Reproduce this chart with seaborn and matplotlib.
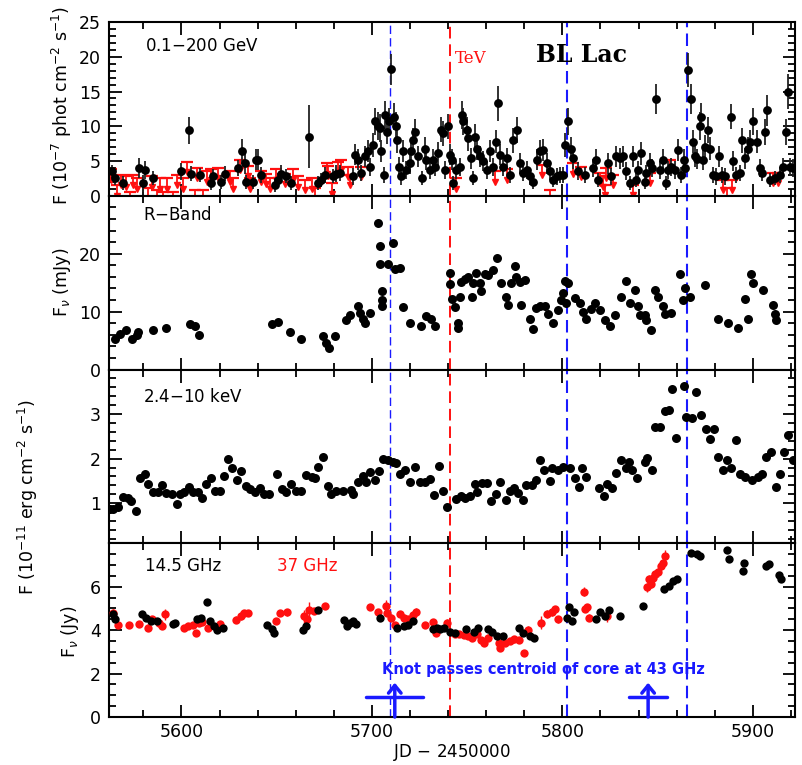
import matplotlib
matplotlib.use('Agg')
import numpy as np
import pandas as pd
import matplotlib.pyplot as plt
from matplotlib.ticker import MultipleLocator, FixedLocator
import seaborn as sns

# --- Fermi 0.1-200 GeV (detections) ---
gev_t = [5563.3, 5565.0, 5569.4, 5577.8, 5579.9, 5580.8, 5585.2, 5600.0, 5604.0, 5605.2,
         5609.6, 5615.7, 5616.6, 5621.0, 5622.7, 5629.7, 5632.0, 5633.2, 5634.0, 5637.6,
         5639.0, 5640.2, 5641.6, 5648.9, 5650.7, 5652.4, 5655.0, 5657.7, 5667.0, 5671.7,
         5673.4, 5675.2, 5679.5, 5681.3, 5683.1, 5690.0, 5691.0, 5692.8, 5694.5, 5696.2,
         5698.0, 5698.9, 5700.6, 5701.5, 5703.3, 5704.1, 5705.0, 5706.4, 5707.1, 5708.1,
         5709.0, 5709.9, 5711.6, 5712.5, 5713.4, 5714.1, 5715.5, 5716.4, 5718.1, 5719.9,
         5720.7, 5721.6, 5722.8, 5724.2, 5726.3, 5727.7, 5728.6, 5730.4, 5732.1, 5733.0,
         5734.8, 5736.2, 5737.4, 5738.3, 5740.0, 5740.9, 5741.8, 5742.7, 5744.4, 5746.2,
         5747.1, 5747.9, 5749.7, 5750.6, 5752.0, 5753.2, 5754.1, 5755.0, 5756.7, 5758.5,
         5760.2, 5762.0, 5763.7, 5765.1, 5766.0, 5767.2, 5769.0, 5770.7, 5772.5, 5774.2,
         5776.0, 5777.7, 5779.5, 5781.2, 5783.0, 5784.7, 5786.5, 5788.2, 5790.0, 5791.7,
         5793.5, 5795.2, 5797.0, 5798.7, 5800.5, 5801.3, 5803.1, 5804.7, 5805.6, 5808.2,
         5811.7, 5816.1, 5817.8, 5818.7, 5824.0, 5825.7, 5828.3, 5830.1, 5831.8, 5833.6,
         5835.3, 5837.1, 5838.8, 5839.7, 5841.5, 5843.2, 5844.1, 5845.8, 5847.0, 5849.0,
         5851.1, 5852.8, 5854.2, 5855.5, 5857.2, 5859.0, 5860.7, 5862.5, 5863.9, 5864.6,
         5866.0, 5867.4, 5868.6, 5869.8, 5870.9, 5872.1, 5873.0, 5873.9, 5875.1, 5876.2,
         5877.7, 5879.2, 5880.4, 5882.1, 5883.6, 5885.3, 5888.3, 5889.7, 5891.4, 5893.2,
         5894.1, 5895.8, 5897.6, 5898.5, 5900.2, 5902.0, 5903.7, 5905.0, 5906.4, 5907.2,
         5909.0, 5911.6, 5914.2, 5916.0, 5917.2, 5918.3, 5919.5, 5921.3]
gev_f = [3.5, 2.5, 1.8, 4.0, 1.8, 3.7, 2.5, 3.5, 9.4, 3.2,
         3.0, 1.8, 2.8, 2.0, 3.2, 4.0, 6.4, 4.7, 2.0, 2.0,
         5.2, 5.2, 3.0, 1.6, 2.3, 3.2, 2.8, 1.8, 8.5, 1.8,
         2.3, 3.0, 2.8, 3.2, 3.3, 2.8, 5.9, 5.2, 3.3, 5.7,
         6.4, 4.2, 7.3, 10.7, 10.0, 9.7, 6.4, 3.0, 11.6, 9.2,
         10.7, 18.2, 11.4, 10.0, 8.0, 4.2, 2.8, 6.4, 3.7, 4.7,
         6.4, 8.0, 9.2, 5.7, 2.5, 6.8, 5.2, 3.7, 5.2, 4.2,
         6.1, 9.5, 9.0, 3.7, 10.0, 5.9, 5.2, 1.8, 3.7, 4.2,
         11.6, 10.7, 9.5, 8.3, 5.4, 2.5, 8.5, 6.8, 5.7, 5.0,
         3.7, 6.4, 4.2, 7.8, 13.3, 5.9, 4.2, 5.4, 3.0, 8.0,
         9.5, 4.7, 3.3, 3.7, 2.8, 2.0, 5.2, 6.4, 6.6, 4.7,
         3.5, 2.3, 2.8, 3.0, 3.0, 7.3, 10.7, 6.8, 5.4, 3.5,
         3.0, 4.0, 5.2, 2.3, 4.7, 2.8, 5.7, 5.4, 5.7, 3.5,
         1.8, 5.7, 2.3, 3.7, 6.1, 2.0, 3.3, 4.7, 4.0, 13.9,
         3.7, 5.2, 1.8, 3.7, 4.2, 3.7, 6.6, 3.0, 5.2, 4.0,
         18.1, 13.9, 7.8, 5.7, 5.3, 10.0, 11.4, 5.2, 7.0, 9.5,
         6.8, 3.0, 2.8, 5.7, 3.0, 2.8, 11.4, 5.0, 3.0, 3.3,
         8.0, 5.4, 6.8, 7.8, 10.7, 7.8, 4.0, 3.3, 9.2, 12.3,
         2.3, 2.5, 3.0, 4.2, 9.2, 15.0, 4.2, 4.0]
gev_e = [1.0, 1.0, 1.0, 1.5, 1.2, 1.3, 1.0, 1.2, 2.0, 1.1,
         1.0, 1.0, 1.0, 1.0, 1.1, 1.2, 1.8, 1.5, 1.0, 1.0,
         1.5, 1.5, 1.2, 1.0, 1.0, 1.2, 1.0, 1.0, 4.5, 1.0,
         1.0, 1.2, 1.0, 1.2, 1.2, 1.2, 1.5, 1.5, 1.2, 1.5,
         1.6, 1.3, 1.7, 2.0, 2.0, 2.0, 1.6, 1.2, 2.0, 1.8,
         2.0, 2.2, 2.0, 2.0, 1.8, 1.4, 1.2, 1.6, 1.3, 1.5,
         1.6, 1.8, 1.8, 1.5, 1.0, 1.6, 1.5, 1.3, 1.5, 1.3,
         1.6, 1.8, 1.8, 1.3, 1.8, 1.5, 1.5, 1.0, 1.3, 1.3,
         2.0, 2.0, 1.8, 1.8, 1.5, 1.0, 1.8, 1.6, 1.5, 1.5,
         1.3, 1.6, 1.3, 1.7, 2.5, 1.5, 1.3, 1.5, 1.2, 1.8,
         1.9, 1.5, 1.2, 1.3, 1.2, 1.0, 1.5, 1.6, 1.6, 1.5,
         1.2, 1.0, 1.2, 1.2, 1.2, 1.7, 2.0, 1.6, 1.5, 1.3,
         1.2, 1.3, 1.5, 1.0, 1.5, 1.2, 1.5, 1.5, 1.5, 1.3,
         1.0, 1.5, 1.0, 1.3, 1.6, 1.0, 1.2, 1.5, 1.3, 2.2,
         1.3, 1.5, 1.0, 1.3, 1.3, 1.3, 1.6, 1.2, 1.5, 1.3,
         2.5, 2.2, 1.7, 1.5, 1.5, 2.0, 2.0, 1.5, 1.7, 1.9,
         1.6, 1.2, 1.2, 1.5, 1.2, 1.2, 1.8, 1.5, 1.2, 1.2,
         1.8, 1.5, 1.6, 1.7, 2.0, 1.7, 1.3, 1.2, 1.9, 2.2,
         1.0, 1.0, 1.2, 1.3, 1.9, 2.5, 1.3, 1.3]

# --- Fermi upper limits ---
ul_t = [5563.0, 5566.0, 5568.5, 5571.0, 5573.0, 5574.8, 5576.5, 5582.6, 5584.4, 5587.0,
        5588.8, 5590.5, 5592.3, 5595.8, 5597.5, 5601.0, 5602.8, 5607.0, 5608.0, 5611.5,
        5613.3, 5615.7, 5619.2, 5625.4, 5627.1, 5630.6, 5635.0, 5635.8, 5642.0, 5644.6,
        5646.4, 5649.9, 5654.3, 5658.7, 5661.3, 5664.8, 5668.3, 5670.0, 5676.2, 5677.0,
        5678.8, 5682.3, 5684.0, 5687.5, 5688.4, 5694.5, 5744.4, 5764.6, 5770.7, 5789.1,
        5793.5, 5805.6, 5810.0, 5819.6, 5821.3, 5822.2, 5823.1, 5826.6, 5837.1, 5845.8,
        5856.3, 5884.4, 5886.2, 5888.8, 5910.7, 5913.3]
ul_f = [3.8, 1.5, 3.0, 2.8, 0.6, 3.0, 2.5, 1.1, 2.8, 0.9,
        2.5, 0.6, 2.5, 0.6, 3.0, 2.5, 4.9, 0.9, 4.0, 0.9,
        3.5, 3.8, 4.0, 3.5, 2.5, 5.2, 4.3, 2.5, 3.5, 3.2,
        2.5, 3.8, 3.2, 3.8, 2.8, 2.3, 2.5, 1.1, 4.7, 4.3,
        1.8, 4.9, 5.2, 4.2, 3.0, 4.2, 2.5, 3.5, 3.8, 4.5,
        0.9, 4.7, 4.2, 3.3, 2.8, 1.6, 4.0, 3.0, 1.6, 3.3,
        5.2, 2.3, 1.1, 2.3, 3.3, 3.3]

# --- R band (mJy) ---
rb_t = [5565.0, 5567.7, 5570.8, 5573.8, 5576.4, 5577.3, 5585.1, 5592.1, 5604.4, 5607.0,
        5609.3, 5647.8, 5650.7, 5656.8, 5663.0, 5674.3, 5675.7, 5677.5, 5680.5, 5686.6,
        5688.3, 5692.7, 5693.6, 5695.3, 5696.2, 5698.9, 5703.2, 5704.1, 5704.0, 5705.5,
        5705.5, 5705.5, 5708.5, 5711.0, 5711.9, 5714.6, 5716.3, 5719.9, 5725.6, 5728.6,
        5731.2, 5733.0, 5740.9, 5740.9, 5741.8, 5743.5, 5745.3, 5745.3, 5746.1, 5747.0,
        5748.8, 5750.5, 5752.3, 5753.1, 5754.9, 5756.6, 5757.5, 5759.2, 5761.0, 5763.6,
        5765.7, 5768.0, 5770.6, 5771.5, 5773.2, 5775.0, 5775.9, 5777.6, 5778.5, 5780.2,
        5782.8, 5784.6, 5786.3, 5788.1, 5790.7, 5792.5, 5795.1, 5797.7, 5799.5, 5800.3,
        5801.2, 5802.0, 5803.0, 5806.4, 5809.0, 5810.8, 5812.5, 5815.2, 5816.9, 5819.5,
        5822.2, 5824.8, 5827.4, 5830.9, 5833.5, 5835.3, 5837.9, 5839.7, 5840.6, 5843.2,
        5844.1, 5846.7, 5848.4, 5850.2, 5852.8, 5853.7, 5857.2, 5861.6, 5863.3, 5864.2,
        5866.8, 5874.7, 5881.7, 5886.9, 5892.2, 5895.7, 5897.4, 5899.2, 5900.0, 5905.3,
        5910.5, 5911.4, 5912.3]
rb_f = [5.3, 6.2, 6.8, 5.3, 5.9, 6.4, 6.8, 7.1, 7.9, 7.6,
        6.0, 7.9, 8.2, 6.4, 5.2, 5.8, 4.6, 3.7, 5.8, 8.5,
        9.4, 11.0, 9.7, 8.7, 8.1, 9.7, 25.3, 21.4, 18.3, 13.5,
        12.0, 11.0, 18.3, 21.8, 17.4, 17.6, 10.8, 8.0, 7.5, 9.3,
        8.7, 7.6, 16.6, 14.8, 12.2, 10.8, 8.0, 7.2, 12.6, 15.1,
        15.6, 16.0, 12.6, 14.9, 16.6, 14.9, 13.5, 16.5, 16.4, 17.1,
        19.2, 14.9, 12.6, 11.2, 14.9, 17.9, 16.0, 15.1, 11.2, 15.4,
        8.7, 7.0, 10.7, 11.0, 11.0, 9.6, 8.1, 10.3, 12.0, 13.2,
        15.2, 11.5, 14.9, 12.4, 11.5, 10.0, 8.8, 10.5, 11.5, 10.3,
        8.5, 7.6, 9.4, 12.6, 15.2, 11.5, 13.8, 11.0, 9.4, 9.4,
        8.5, 6.9, 13.8, 12.6, 11.0, 9.6, 9.7, 16.5, 12.0, 14.1,
        12.6, 14.6, 8.7, 8.1, 7.2, 12.2, 8.7, 16.5, 14.9, 13.8,
        11.2, 9.6, 8.6]

# --- RXTE 2.4-10 keV (1e-11 erg cm-2 s-1) ---
xr_t = [5562.4, 5564.0, 5566.7, 5569.3, 5571.9, 5573.7, 5576.0, 5578.1, 5580.7, 5582.5,
        5584.8, 5587.7, 5590.0, 5592.1, 5594.8, 5597.4, 5599.1, 5601.4, 5604.0, 5606.1,
        5608.9, 5611.0, 5613.1, 5615.7, 5617.5, 5620.5, 5622.4, 5624.7, 5626.7, 5629.4,
        5631.5, 5633.7, 5636.2, 5638.5, 5641.1, 5643.4, 5645.8, 5650.4, 5653.0, 5654.8,
        5657.4, 5660.4, 5663.0, 5665.6, 5668.3, 5670.0, 5671.8, 5674.4, 5676.7, 5678.4,
        5681.4, 5684.9, 5689.2, 5690.1, 5692.7, 5695.3, 5697.1, 5698.8, 5701.5, 5703.8,
        5705.8, 5708.5, 5711.1, 5712.8, 5714.6, 5717.2, 5719.9, 5722.8, 5725.1, 5727.7,
        5730.3, 5732.6, 5735.2, 5737.3, 5739.6, 5744.3, 5746.9, 5748.7, 5751.3, 5753.9,
        5755.1, 5757.9, 5760.5, 5762.3, 5764.9, 5767.4, 5770.2, 5772.3, 5774.5, 5776.6,
        5779.2, 5781.0, 5784.2, 5786.3, 5788.4, 5790.6, 5793.6, 5794.7, 5797.7, 5800.3,
        5803.8, 5806.5, 5808.6, 5810.5, 5812.6, 5819.3, 5821.7, 5823.5, 5826.1, 5828.4,
        5831.0, 5833.3, 5835.0, 5836.8, 5839.2, 5843.6, 5844.6, 5847.1, 5848.5, 5851.1,
        5853.7, 5856.0, 5857.7, 5859.8, 5863.7, 5864.7, 5868.2, 5870.3, 5872.9, 5875.2,
        5877.3, 5879.4, 5881.6, 5884.3, 5886.5, 5888.6, 5890.9, 5893.0, 5896.0, 5899.6,
        5902.6, 5904.9, 5907.0, 5909.6, 5911.9, 5914.0, 5916.6, 5918.4, 5921.0]
xr_f = [0.86, 0.87, 0.92, 1.14, 1.12, 1.06, 0.82, 1.57, 1.66, 1.43,
        1.25, 1.25, 1.41, 1.22, 1.20, 0.99, 1.20, 1.25, 1.37, 1.24,
        1.24, 1.11, 1.42, 1.56, 1.27, 1.27, 1.61, 2.00, 1.78, 1.52,
        1.72, 1.39, 1.31, 1.25, 1.35, 1.20, 1.20, 1.66, 1.31, 1.24,
        1.42, 1.27, 1.27, 1.63, 1.59, 1.57, 1.81, 2.04, 1.39, 1.20,
        1.27, 1.27, 1.29, 1.21, 1.47, 1.62, 1.48, 1.69, 1.52, 1.72,
        1.99, 1.98, 1.93, 1.91, 1.65, 1.75, 1.48, 1.81, 1.48, 1.48,
        1.54, 1.19, 1.84, 1.28, 0.91, 1.10, 1.17, 1.11, 1.17, 1.42,
        1.26, 1.45, 1.45, 1.04, 1.21, 1.48, 1.07, 1.28, 1.34, 1.23,
        1.08, 1.40, 1.40, 1.52, 1.98, 1.75, 1.49, 1.79, 1.75, 1.81,
        1.79, 1.57, 1.36, 1.79, 1.59, 1.33, 1.17, 1.42, 1.34, 1.68,
        1.96, 1.78, 1.93, 1.75, 1.56, 1.93, 2.01, 1.75, 2.72, 2.72,
        3.06, 3.10, 3.57, 2.47, 3.62, 2.93, 2.91, 3.50, 2.99, 2.66,
        2.44, 2.66, 2.03, 1.75, 1.96, 1.79, 2.41, 1.65, 1.59, 1.51,
        1.59, 1.65, 2.03, 2.14, 1.36, 1.65, 2.16, 2.52, 1.98]

# --- UMRAO 14.5 GHz (Jy) ---
r14_t = [5564.1, 5565.3, 5579.2, 5581.5, 5583.8, 5587.3, 5595.4, 5596.5, 5608.1, 5610.4,
         5613.2, 5615.0, 5616.9, 5618.5, 5622.0, 5645.1, 5647.5, 5648.6, 5663.7, 5665.5,
         5671.8, 5685.6, 5686.8, 5688.7, 5690.3, 5691.9, 5704.2, 5713.4, 5716.9, 5719.2,
         5721.5, 5731.9, 5734.3, 5735.9, 5737.7, 5741.2, 5743.5, 5749.3, 5753.5, 5755.8,
         5760.9, 5763.2, 5765.5, 5769.0, 5777.1, 5779.4, 5782.9, 5785.2, 5802.5, 5803.7,
         5806.0, 5804.9, 5817.4, 5819.8, 5822.2, 5824.5, 5830.3, 5842.4, 5853.5, 5855.8,
         5858.1, 5860.0, 5867.4, 5870.8, 5872.5, 5886.3, 5887.7, 5895.1, 5894.7, 5906.7,
         5908.6, 5913.7, 5914.8]
r14_f = [4.74, 4.50, 4.74, 4.58, 4.43, 4.43, 4.28, 4.35, 4.50, 4.58,
         5.31, 4.43, 4.20, 4.02, 4.12, 4.23, 4.05, 3.86, 4.02, 4.17,
         4.94, 4.48, 4.17, 4.35, 4.43, 4.28, 4.54, 4.12, 4.20, 4.23,
         4.43, 4.05, 4.12, 4.05, 4.08, 3.92, 3.86, 4.05, 3.92, 4.08,
         4.05, 3.92, 3.74, 3.71, 4.12, 3.86, 3.74, 3.62, 4.54, 5.05,
         4.82, 4.43, 4.50, 4.85, 4.63, 4.94, 4.63, 5.09, 5.89, 6.05,
         6.28, 6.35, 7.55, 7.51, 7.43, 7.71, 7.28, 7.09, 6.71, 6.97,
         7.05, 6.54, 6.35]

# --- Metsahovi 37 GHz (Jy) ---
r37_t = [5564.1, 5566.9, 5572.2, 5577.5, 5582.2, 5584.5, 5588.4, 5590.0, 5591.2, 5601.2,
         5603.5, 5605.8, 5607.4, 5609.3, 5610.9, 5613.9, 5620.1, 5628.9, 5631.3, 5633.1,
         5634.7, 5649.8, 5651.6, 5655.6, 5664.1, 5666.0, 5667.1, 5669.4, 5675.2, 5699.1,
         5703.0, 5707.6, 5708.1, 5709.9, 5712.3, 5714.6, 5716.9, 5719.2, 5721.5, 5723.4,
         5728.0, 5731.9, 5733.6, 5739.6, 5743.5, 5745.8, 5748.1, 5750.5, 5752.8, 5755.1,
         5757.4, 5758.6, 5760.9, 5766.7, 5767.4, 5770.1, 5772.5, 5774.8, 5777.1, 5779.9,
         5781.7, 5788.7, 5792.1, 5794.4, 5796.1, 5797.9, 5811.3, 5811.8, 5813.0, 5814.1,
         5823.4, 5844.2, 5845.4, 5846.5, 5847.7, 5848.8, 5850.0, 5851.6, 5853.0, 5853.9]
r37_f = [4.78, 4.23, 4.23, 4.28, 4.12, 4.50, 4.35, 4.20, 4.74, 4.08,
         4.17, 4.23, 3.86, 4.32, 4.38, 4.08, 4.28, 4.48, 4.66, 4.78,
         4.78, 4.43, 4.78, 4.82, 4.63, 4.50, 4.94, 4.89, 5.12, 5.05,
         4.82, 5.12, 4.78, 4.58, 4.23, 4.74, 4.58, 4.50, 4.69, 4.85,
         4.23, 4.38, 3.86, 4.32, 3.82, 3.82, 3.77, 3.74, 3.66, 3.82,
         3.55, 3.43, 3.66, 3.43, 3.20, 3.40, 3.51, 3.58, 3.55, 2.97,
         4.02, 4.35, 4.74, 4.82, 4.97, 4.50, 5.77, 4.97, 5.05, 4.58,
         4.63, 5.97, 6.35, 6.12, 6.38, 6.58, 6.66, 6.97, 7.09, 7.43]
r37_e = [0.20, 0.15, 0.15, 0.15, 0.15, 0.15, 0.15, 0.15, 0.25, 0.12,
         0.12, 0.12, 0.12, 0.15, 0.15, 0.12, 0.15, 0.15, 0.20, 0.15,
         0.15, 0.15, 0.15, 0.15, 0.30, 0.15, 0.35, 0.15, 0.15, 0.12,
         0.12, 0.25, 0.15, 0.15, 0.15, 0.15, 0.15, 0.15, 0.15, 0.15,
         0.12, 0.15, 0.12, 0.20, 0.12, 0.12, 0.12, 0.12, 0.12, 0.15,
         0.15, 0.15, 0.15, 0.15, 0.15, 0.15, 0.15, 0.15, 0.15, 0.12,
         0.15, 0.30, 0.20, 0.15, 0.15, 0.15, 0.20, 0.15, 0.15, 0.15,
         0.25, 0.20, 0.20, 0.20, 0.20, 0.20, 0.20, 0.20, 0.20, 0.25]

# event markers
tev_day = 5740.8
knot_days = [5709.3, 5802.6, 5865.6]
arrow_days = [5712.0, 5845.0]
arrow_err = [15.0, 10.0]

RED = '#ff1010'
BLUE = '#1a1aff'

sns.set_style('ticks')
plt.rcParams['font.family'] = ['DejaVu Sans']
for key in ['text.color', 'axes.labelcolor', 'xtick.color', 'ytick.color', 'axes.edgecolor']:
    plt.rcParams[key] = 'black'

fig, axes = plt.subplots(4, 1, figsize=(8.02, 7.65), dpi=100, sharex=True)
fig.subplots_adjust(left=0.136, right=0.991, bottom=0.0627, top=0.9712, hspace=0)
ax1, ax2, ax3, ax4 = axes

# panel 1: gamma rays (upper limits drawn as T-bar with down arrow)
UL_DROP = 1.5
for t, f in zip(ul_t, ul_f):
    ax1.plot([t, t], [f, f - UL_DROP], color=RED, lw=1.3, zorder=2)
ax1.plot(ul_t, ul_f, ls='none', marker='_', ms=9, mew=1.6, color=RED, zorder=2)
ax1.plot(ul_t, np.array(ul_f) - UL_DROP, ls='none', marker='v', ms=5, color=RED, zorder=2)
ax1.errorbar(gev_t, gev_f, yerr=gev_e, fmt='none', ecolor='#222222', elinewidth=1.3, zorder=3)
sns.scatterplot(x=gev_t, y=gev_f, ax=ax1, color='black', s=40, linewidth=0, zorder=4)

# panel 2: R band
sns.scatterplot(x=rb_t, y=rb_f, ax=ax2, color='black', s=42, linewidth=0, zorder=4)

# panel 3: X-rays
sns.scatterplot(x=xr_t, y=xr_f, ax=ax3, color='black', s=42, linewidth=0, zorder=4)

# panel 4: radio
ax4.errorbar(r37_t, r37_f, yerr=r37_e, fmt='none', ecolor=RED, elinewidth=1.0, zorder=3)
sns.scatterplot(x=r37_t, y=r37_f, ax=ax4, color=RED, s=36, linewidth=0, zorder=4)
sns.scatterplot(x=r14_t, y=r14_f, ax=ax4, color='black', s=36, linewidth=0, zorder=4)

for d, e in zip(arrow_days, arrow_err):
    ax4.plot([d - e, d + e], [0.92, 0.92], color=BLUE, lw=2.5, zorder=5)
    ax4.annotate('', xy=(d, 1.58), xytext=(d, 0.0),
                 arrowprops=dict(arrowstyle='->,head_length=0.55,head_width=0.45',
                                 lw=2.5, color=BLUE, shrinkA=0, shrinkB=0),
                 zorder=5)
ax4.text(5790, 2.2, 'Knot passes centroid of core at 43 GHz', color=BLUE,
         fontsize=10.5, fontweight='bold', ha='center', va='center')

# vertical event lines
for ax in axes:
    ax.axvline(tev_day, color=RED, lw=1.4, dashes=(6, 3), zorder=1)
    for i, d in enumerate(knot_days):
        ax.axvline(d, color=BLUE, lw=1.0 if i == 0 else 1.5, dashes=(6, 3), zorder=1)

# axes formatting
ylims = [(0, 25), (0, 30), (0.1, 4.0), (0, 8)]
majors = [[0, 5, 10, 15, 20, 25], [0, 10, 20], [1, 2, 3], [0, 2, 4, 6]]
minors = [1, 2, 0.2, 0.5]
for ax, yl, mj, mn in zip(axes, ylims, majors, minors):
    ax.set_xlim(5562, 5922)
    ax.set_ylim(*yl)
    ax.yaxis.set_major_locator(FixedLocator(mj))
    ax.yaxis.set_minor_locator(MultipleLocator(mn))
    ax.xaxis.set_major_locator(MultipleLocator(100))
    ax.xaxis.set_minor_locator(MultipleLocator(20))
    ax.tick_params(which='both', direction='in', top=True, right=True,
                   width=1.3, labelsize=12.5, colors='black')
    ax.tick_params(axis='y', pad=6)
    ax.tick_params(axis='x', pad=4)
    ax.tick_params(which='major', length=9)
    ax.tick_params(which='minor', length=5)
    for s in ax.spines.values():
        s.set_linewidth(1.5)
        s.set_color('black')
    ax.set_ylabel('')
    ax.set_facecolor('white')

ax4.set_xlabel('JD $-$ 2450000', fontsize=12, labelpad=1, color='black')

# panel labels
ax1.text(0.052, 0.86, '0.1$-$200 GeV', transform=ax1.transAxes, fontsize=12, va='center')
ax1.text(5743.5, 19.8, 'TeV', color=RED, fontsize=12, family='DejaVu Serif', va='center')
ax1.text(5810, 20.3, 'BL Lac', fontsize=17, family='DejaVu Serif', fontweight='bold',
         color='black', ha='center', va='center')
ax2.text(0.05, 0.89, 'R$-$Band', transform=ax2.transAxes, fontsize=12, va='center')
ax3.text(0.05, 0.84, '2.4$-$10 keV', transform=ax3.transAxes, fontsize=12, va='center')
ax4.text(0.052, 0.87, '14.5 GHz', transform=ax4.transAxes, fontsize=12, va='center')
ax4.text(0.245, 0.87, '37 GHz', transform=ax4.transAxes, fontsize=12, color=RED, va='center')

# y labels
W, H = 802.0, 765.0
fig.text(62 / W, 1 - 105 / H, 'F (10$^{-7}$ phot cm$^{-2}$ s$^{-1}$)', rotation=90,
         ha='center', va='center', fontsize=12.5)
fig.text(62 / W, 1 - 282 / H, 'F$_\\nu$ (mJy)', rotation=90,
         ha='center', va='center', fontsize=12.5)
fig.text(28 / W, 1 - 497 / H, 'F (10$^{-11}$ erg cm$^{-2}$ s$^{-1}$)', rotation=90,
         ha='center', va='center', fontsize=12.5)
fig.text(70 / W, 1 - 632 / H, 'F$_\\nu$ (Jy)', rotation=90,
         ha='center', va='center', fontsize=12.5)

fig.savefig('out.png', dpi=100, facecolor='white')
